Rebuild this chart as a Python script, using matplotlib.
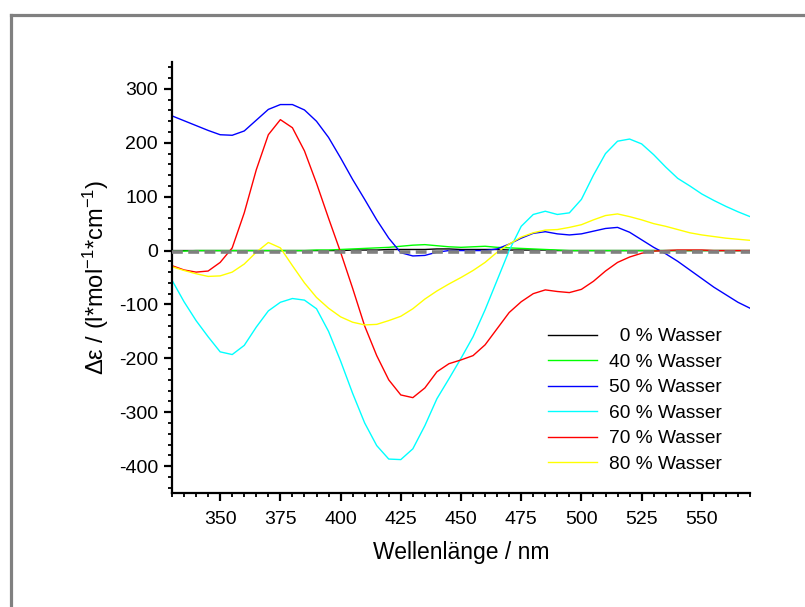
import matplotlib
matplotlib.use("Agg")
import matplotlib.pyplot as plt
from matplotlib.lines import Line2D
from matplotlib.ticker import MultipleLocator

plt.rcParams["font.family"] = ["Liberation Sans", "DejaVu Sans"]
plt.rcParams["mathtext.fontset"] = "custom"
plt.rcParams["mathtext.rm"] = "Liberation Sans"
plt.rcParams["mathtext.it"] = "Liberation Sans:italic"
plt.rcParams["mathtext.default"] = "regular"
plt.rcParams["axes.unicode_minus"] = False

# wavelength grid (nm), 5 nm steps
wl = list(range(330, 575, 5))

w0 = [0, 0, 0, 0, 0, 0, 0, 0, 0, 0,
      0, 0, 0, 0, 0, 1, 1, 1, 2, 2,
      2, 2, 3, 3, 2, 2, 2, 2, 1, 1,
      1, 1, 0, 0, 0, 0, 0, 0, 0, 0,
      0, 0, 0, 0, 0, 0, 0, 0, 0]
w40 = [-1, -1, 0, 0, 0, 0, 0, 0, 0, 0,
       0, 0, 1, 1, 2, 3, 4, 5, 6, 8,
       10, 11, 9, 7, 6, 7, 8, 6, 5, 4,
       3, 2, 1, 0, 0, 0, 0, 0, 0, 0,
       0, 0, 0, 0, 0, 0, 0, 0, 0]
w50 = [250, 241, 232, 223, 215, 214, 222, 242, 262, 271,
       271, 261, 240, 210, 172, 132, 95, 57, 23, -4,
       -10, -9, -3, 0, 0, 0, 0, 3, 12, 23,
       32, 35, 31, 29, 31, 36, 41, 43, 34, 20,
       6, -6, -20, -36, -52, -68, -82, -96, -107]
w60 = [-55, -95, -130, -160, -188, -193, -176, -142, -112, -96,
       -89, -92, -108, -150, -205, -265, -320, -362, -387, -388,
       -368, -325, -275, -238, -200, -160, -110, -55, 0, 45,
       67, 73, 67, 70, 95, 140, 180, 203, 207, 198,
       178, 155, 134, 120, 105, 93, 82, 72, 63]
w70 = [-28, -36, -40, -38, -22, 5, 70, 150, 215, 243,
       228, 185, 125, 60, -3, -70, -140, -195, -240, -268,
       -273, -255, -225, -210, -203, -195, -175, -145, -115, -95,
       -80, -73, -76, -78, -72, -57, -38, -22, -12, -5,
       -1, 0, 1, 1, 1, 0, 0, 0, 0]
w80 = [-30, -37, -43, -48, -47, -40, -25, -3, 15, 5,
       -28, -60, -87, -107, -123, -133, -138, -137, -130, -122,
       -108, -90, -75, -62, -50, -37, -22, -3, 12, 25,
       33, 38, 39, 43, 48, 57, 65, 68, 63, 57,
       50, 45, 39, 33, 29, 26, 23, 21, 19]

series = [w0, w40, w50, w60, w70, w80]
labels = ["  0 % Wasser", "40 % Wasser", "50 % Wasser",
          "60 % Wasser", "70 % Wasser", "80 % Wasser"]
colors = ["#000000", "#00ff00", "#0000ff", "#00ffff", "#ff0000", "#ffff00"]

fig = plt.figure(figsize=(8.05, 6.07), dpi=100)
ax = fig.add_axes([172 / 805, 1 - 493 / 607, 578 / 805, 431 / 607])

for ys, lab, col in zip(series, labels, colors):
    ax.plot(wl, ys, color=col, lw=1.0, label=lab)

ax.axhline(-3, color="#808080", lw=2.6, ls=(0, (3, 1.5)), zorder=5)

ax.set_xlim(330, 570)
ax.set_ylim(-450, 350)
ax.xaxis.set_major_locator(MultipleLocator(25))
ax.xaxis.set_minor_locator(MultipleLocator(5))
ax.yaxis.set_major_locator(MultipleLocator(100))
ax.yaxis.set_minor_locator(MultipleLocator(20))

for s in ("top", "right"):
    ax.spines[s].set_visible(False)
for s in ("left", "bottom"):
    ax.spines[s].set_linewidth(1.6)

ax.tick_params(which="major", direction="out", length=6, width=1.6, labelsize=14, pad=4)
ax.tick_params(axis="x", which="major", pad=7)
ax.tick_params(which="minor", direction="out", length=3, width=1.3)

ax.set_xlabel("Wellenlänge / nm", fontsize=16.5, labelpad=9)
ax.set_ylabel("Δε / (l*mol$^{-1}$*cm$^{-1}$)", fontsize=17, labelpad=6)

ax.legend(loc="upper left", bbox_to_anchor=(548 / 805, 1 - 328 / 607),
          bbox_transform=fig.transFigure, frameon=False, fontsize=13.8,
          handlelength=2.55, handletextpad=0.62, labelspacing=0.42,
          borderpad=0, borderaxespad=0)

# grey frame on the left and top edges
fx = 11 / 805
fy = 1 - 14.5 / 607
fig.add_artist(Line2D([fx, fx], [0, fy], color="#808080", lw=2.3, transform=fig.transFigure))
fig.add_artist(Line2D([fx, 1], [fy, fy], color="#808080", lw=2.3, transform=fig.transFigure))

fig.savefig("out.png", dpi=100)
